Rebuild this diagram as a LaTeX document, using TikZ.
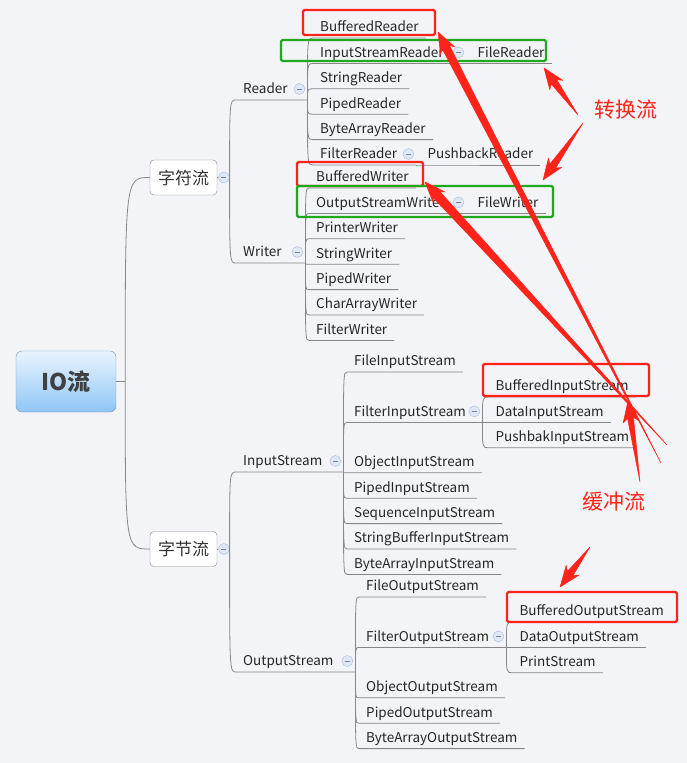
\documentclass[tikz,border=0pt]{standalone}
\usepackage{fontspec}
\setmainfont{Noto Sans CJK SC}
\usepackage{xcolor}
\usepackage{tikz}
\usetikzlibrary{positioning, calc}

\definecolor{canvas}{RGB}{243,244,248}
\definecolor{branch}{RGB}{135,135,135}
\definecolor{rootline}{RGB}{120,150,185}
\definecolor{roottop}{RGB}{234,244,254}
\definecolor{rootbot}{RGB}{142,198,246}
\definecolor{foldfill}{RGB}{222,231,244}
\definecolor{folddraw}{RGB}{170,190,220}
\definecolor{annored}{RGB}{255,35,25}
\definecolor{annogreen}{RGB}{30,170,30}

\newcommand\fatarrow[3][3.5pt]{%
  \filldraw[annored, line width=0.5pt, line join=round]
    (#2) -- ($(#3)!17pt!(#2)!#1!90:(#3)$) -- ($(#3)!21pt!(#2)!8pt!90:(#3)$)
    -- (#3) -- ($(#3)!21pt!(#2)!8pt!-90:(#3)$) -- ($(#3)!17pt!(#2)!#1!-90:(#3)$) -- cycle;}

\begin{document}
\begin{tikzpicture}[
    x=1pt, y=-1pt,
    node distance=8pt,
    link/.style={draw=branch, line width=0.8pt},
    root/.style={rectangle, rounded corners=6pt, draw=rootline, top color=roottop, bottom color=rootbot, minimum width=100pt, minimum height=61pt, font=\fontsize{23}{27}\selectfont\bfseries, text=black!75},
    topic/.style={rectangle, rounded corners=4pt, draw=branch, fill=white, minimum width=67pt, minimum height=35pt, font=\fontsize{17}{20}\selectfont, text=black!80},
    fold/.style={circle, draw=folddraw, fill=foldfill, minimum size=11pt, inner sep=0pt,
        path picture={\draw[folddraw!70!black, line width=0.6pt] ([xshift=-2.5pt]path picture bounding box.center) -- ([xshift=2.5pt]path picture bounding box.center);}},
    leaf/.style={anchor=south west, inner xsep=7pt, inner ysep=0pt, text height=11pt, text depth=6pt, font=\fontsize{13.5}{16}\selectfont, text=black!85},
    hub/.style={leaf, text width=#1, align=left},
    redbox/.style={draw=annored, line width=2.4pt, rounded corners=1.5pt},
    greenbox/.style={draw=annogreen, line width=2.4pt, rounded corners=1.5pt},
    annotext/.style={text=annored, font=\fontsize{21}{24}\selectfont}
]

\fill[canvas] (0,0) rectangle (687,763);
\useasboundingbox (0,0) rectangle (687,763);

\node[root] (io) at (66,381.5) {IO流};
\node[topic] (zf) at (183.5,177.5) {字符流};
\node[topic] (zj) at (183.5,549) {字节流};
\node[fold, right=1pt of zf] (zff) {};
\node[fold, right=1pt of zj] (zjf) {};

\node[hub=57pt] (rd) at (236,100) {Reader};
\node[hub=55pt] (wr) at (236,263) {Writer};
\node[hub=93pt] (ins) at (236,472) {InputStream};
\node[hub=105pt] (ous) at (236,672) {OutputStream};

\node[leaf] (br) at (313,38) {BufferedReader};
\node[hub=139pt, below=of br.south west, anchor=north west] (isr) {InputStreamReader};
\node[leaf, below=of isr.south west, anchor=north west] (sr) {StringReader};
\node[leaf, below=of sr.south west, anchor=north west] (pr) {PipedReader};
\node[leaf, below=of pr.south west, anchor=north west] (bar) {ByteArrayReader};
\node[hub=89pt, below=of bar.south west, anchor=north west] (flr) {FilterReader};
\node[leaf, right=4pt of isr.south east, anchor=south west] (frd) {FileReader};
\node[leaf, right=4pt of flr.south east, anchor=south west] (pbr) {PushbackReader};

\node[leaf] (bw) at (309,188) {BufferedWriter};
\node[hub=143pt, below=of bw.south west, anchor=north west] (osw) {OutputStreamWriter};
\node[leaf, below=of osw.south west, anchor=north west] (prw) {PrinterWriter};
\node[leaf, below=of prw.south west, anchor=north west] (sw) {StringWriter};
\node[leaf, below=of sw.south west, anchor=north west] (pw) {PipedWriter};
\node[leaf, below=of pw.south west, anchor=north west] (caw) {CharArrayWriter};
\node[leaf, below=of caw.south west, anchor=north west] (fiw) {FilterWriter};
\node[leaf, right=4pt of osw.south east, anchor=south west] (fw) {FileWriter};

\node[leaf] (fis) at (347,372) {FileInputStream};
\node[hub=121pt, below=33pt of fis.south west, anchor=north west] (fltis) {FilterInputStream};
\node[leaf, below=33pt of fltis.south west, anchor=north west] (ois) {ObjectInputStream};
\node[leaf, below=of ois.south west, anchor=north west] (pis) {PipedInputStream};
\node[leaf, below=of pis.south west, anchor=north west] (seqis) {SequenceInputStream};
\node[leaf, below=of seqis.south west, anchor=north west] (sbis) {StringBufferInputStream};
\node[leaf, below=of sbis.south west, anchor=north west] (bais) {ByteArrayInputStream};
\node[leaf, right=6pt of fltis.south east, anchor=south west] (dis) {DataInputStream};
\node[leaf, above=of dis.north west, anchor=south west] (bis) {BufferedInputStream};
\node[leaf, below=of dis.south west, anchor=north west] (pbis) {PushbakInputStream};

\node[leaf] (fos) at (359,597) {FileOutputStream};
\node[hub=133pt, below=33pt of fos.south west, anchor=north west] (fltos) {FilterOutputStream};
\node[leaf, below=33pt of fltos.south west, anchor=north west] (oos) {ObjectOutputStream};
\node[leaf, below=of oos.south west, anchor=north west] (pos) {PipedOutputStream};
\node[leaf, below=of pos.south west, anchor=north west] (baos) {ByteArrayOutputStream};
\node[leaf, right=6pt of fltos.south east, anchor=south west] (dos) {DataOutputStream};
\node[leaf, above=of dos.north west, anchor=south west] (bos) {BufferedOutputStream};
\node[leaf, below=of dos.south west, anchor=north west] (ps) {PrintStream};

\draw[link] (io.east) -- ++(9,0) coordinate (iojoint);
\foreach \c in {zf,zj}
    \draw[link] (iojoint) .. controls (iojoint |- \c.west) .. (\c.west);
\draw[link] (zf.east) -- (zff.west);
\draw[link] (zj.east) -- (zjf.west);

\foreach \p/\kids in {zff.east/{rd,wr}, zjf.east/{ins,ous},
        rd.south east/{br,isr,sr,pr,bar,flr}, wr.south east/{bw,osw,prw,sw,pw,caw,fiw},
        ins.south east/{fis,fltis,ois,pis,seqis,sbis,bais}, ous.south east/{fos,fltos,oos,pos,baos},
        isr.south east/{frd}, flr.south east/{pbr}, osw.south east/{fw},
        fltis.south east/{bis,dis,pbis}, fltos.south east/{bos,dos,ps}}
    \foreach \c in \kids
        \draw[link] (\p) .. controls (\p |- \c.south west) .. (\c.south west) -- (\c.south east);

\node[fold] (rdf) at ([shift={(-8,-11)}]rd.south east) {};
\node[fold] (wrf) at ([shift={(-8,-11)}]wr.south east) {};
\node[fold] (insf) at ([shift={(-8,-11)}]ins.south east) {};
\node[fold] (ousf) at ([shift={(-8,-11)}]ous.south east) {};
\node[fold] (isrf) at ([shift={(-8,-11)}]isr.south east) {};
\node[fold] (flrf) at ([shift={(-8,-11)}]flr.south east) {};
\node[fold] (oswf) at ([shift={(-8,-11)}]osw.south east) {};
\node[fold] (fltisf) at ([shift={(-8,-11)}]fltis.south east) {};
\node[fold] (fltosf) at ([shift={(-8,-11)}]fltos.south east) {};

\draw[redbox] (303,10) rectangle (435,35);
\draw[greenbox] (281,40) rectangle (546,61);
\draw[redbox] (297,162) rectangle (423,186);
\draw[greenbox] (297,186) rectangle (553,217);
\draw[redbox] (483,364) rectangle (649,396);
\draw[redbox] (507,592) rectangle (677,622);

\node[annotext] (zhl) at (626,110) {转换流};
\node[annotext] (hcl) at (614,502) {缓冲流};

\coordinate (zhA) at (578,115);
\coordinate (frtip) at (544,68);
\coordinate (zhB) at (583,123);
\coordinate (fwtip) at (543,180);
\coordinate (hcA) at (661,463);
\coordinate (brtip) at (438,32);
\coordinate (hcB) at (667,445);
\coordinate (bwtip) at (425,182);
\coordinate (hcC) at (640,482);
\coordinate (bistip) at (628,401);
\coordinate (hcD) at (590,547);
\coordinate (bostip) at (560,587);

\fatarrow{zhA}{frtip}
\fatarrow{zhB}{fwtip}
\fatarrow[4pt]{hcA}{brtip}
\fatarrow[4.5pt]{hcB}{bwtip}
\fatarrow[3pt]{hcC}{bistip}
\fatarrow{hcD}{bostip}
\end{tikzpicture}
\end{document}
